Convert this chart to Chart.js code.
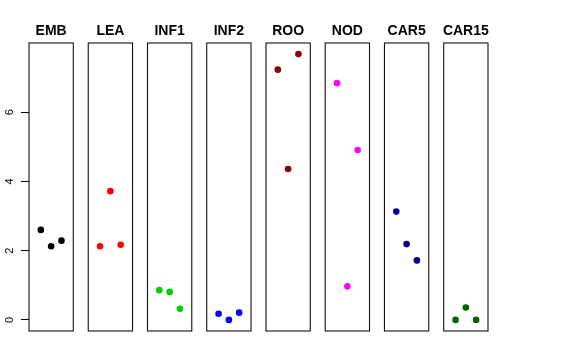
<!DOCTYPE html>
<html>
<head>
<meta charset="utf-8">
<script src="https://cdn.jsdelivr.net/npm/chart.js@4/dist/chart.umd.min.js"></script>
<style>
html,body{margin:0;padding:0;background:#fff;}
#c{display:block;}
</style>
</head>
<body>
<canvas id="c" width="576" height="360"></canvas>
<script>
// ---- data ----
const categories = ["EMB","LEA","INF1","INF2","ROO","NOD","CAR5","CAR15"];
const EMB   = [2.60, 2.13, 2.29];
const LEA   = [2.13, 3.72, 2.17];
const INF1  = [0.86, 0.81, 0.32];
const INF2  = [0.18, 0.00, 0.21];
const ROO   = [7.23, 4.36, 7.68];
const NOD   = [6.84, 0.97, 4.91];
const CAR5  = [3.13, 2.19, 1.72];
const CAR15 = [0.00, 0.36, 0.00];
const seriesValues = [EMB, LEA, INF1, INF2, ROO, NOD, CAR5, CAR15];
const colors = ["#000000","#FF0000","#00CD00","#0000FF","#8B0000","#FF00FF","#00008B","#006400"];
const yTicks = [0, 2, 4, 6];

// ---- panel layout in x-scale units ----
const STEP = 5.75;     // distance between panel starts
const PANEL_W = 4.3;   // panel width
const OFF = 1.15;      // first point offset within panel

const datasets = seriesValues.map((vals, i) => ({
  label: categories[i],
  data: vals.map((v, j) => ({x: i * STEP + OFF + j, y: v})),
  backgroundColor: colors[i],
  borderColor: colors[i],
  borderWidth: 0,
  pointRadius: 3.3,
  pointHoverRadius: 3.3
}));

const panelPlugin = {
  id: 'panels',
  beforeDatasetsDraw(chart) {
    const ctx = chart.ctx, xs = chart.scales.x, ca = chart.chartArea;
    ctx.save();
    ctx.strokeStyle = '#111';
    ctx.lineWidth = 1.1;
    categories.forEach((c, i) => {
      const x0 = xs.getPixelForValue(i * STEP);
      const x1 = xs.getPixelForValue(i * STEP + PANEL_W);
      ctx.strokeRect(x0, ca.top, x1 - x0, ca.bottom - ca.top);
    });
    ctx.restore();
  },
  afterDraw(chart) {
    const ctx = chart.ctx, xs = chart.scales.x, ys = chart.scales.y;
    ctx.save();
    ctx.fillStyle = '#000';
    ctx.font = 'bold 14px "Liberation Sans", Arial, sans-serif';
    ctx.textAlign = 'center';
    ctx.textBaseline = 'alphabetic';
    categories.forEach((c, i) => {
      const xc = xs.getPixelForValue(i * STEP + PANEL_W / 2);
      ctx.fillText(c, xc, 34.5);
    });
    ctx.font = '11px "Liberation Sans", Arial, sans-serif';
    ctx.textBaseline = 'middle';
    yTicks.forEach(v => {
      const y = ys.getPixelForValue(v);
      ctx.save();
      ctx.translate(10, y);
      ctx.rotate(-Math.PI / 2);
      ctx.fillText(String(v), 0, 0);
      ctx.restore();
    });
    ctx.restore();
  }
};

new Chart(document.getElementById('c'), {
  type: 'scatter',
  data: {datasets},
  options: {
    responsive: false,
    devicePixelRatio: 1,
    animation: false,
    layout: {padding: {top: 43, right: 88, bottom: 29, left: 0}},
    plugins: {legend: {display: false}, tooltip: {enabled: false}, title: {display: false}},
    scales: {
      x: {
        type: 'linear',
        display: false,
        min: 0,
        max: 7 * STEP + PANEL_W
      },
      y: {
        type: 'linear',
        min: -0.32,
        max: 8.0,
        afterBuildTicks(scale) { scale.ticks = yTicks.map(v => ({value: v})); },
        afterFit(scale) { scale.width = 29; },
        ticks: {display: false},
        border: {display: false},
        grid: {drawOnChartArea: false, drawTicks: true, tickLength: 8, color: '#000', lineWidth: 1}
      }
    }
  },
  plugins: [panelPlugin]
});
</script>
</body>
</html>
